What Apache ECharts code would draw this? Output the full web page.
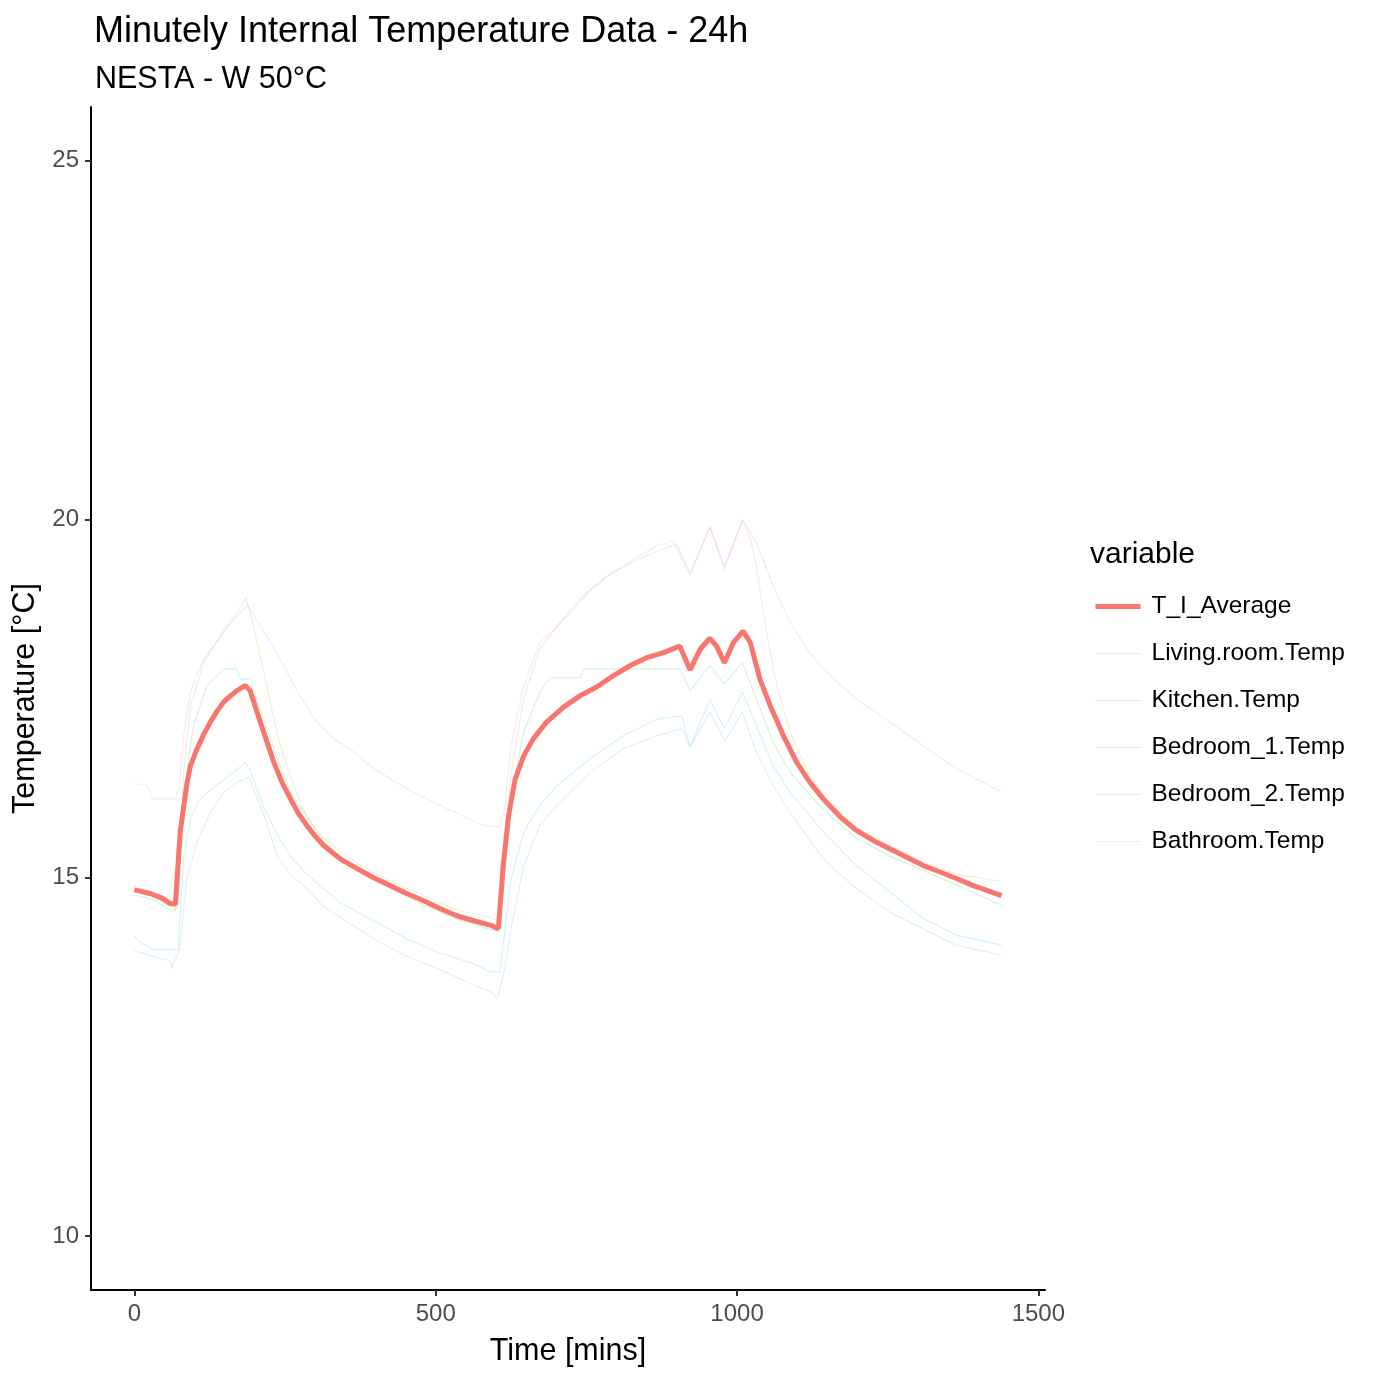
<!DOCTYPE html>
<html>
<head>
<meta charset="utf-8">
<script src="https://cdn.jsdelivr.net/npm/echarts@6/dist/echarts.min.js"></script>
<style>
  html, body { margin: 0; padding: 0; background: #fff; }
  #chart { width: 1379px; height: 1379px; }
</style>
</head>
<body>
<div id="chart"></div>
<script>
// [minute, °C]
const avgPoints = [
  [0, 14.83], [26, 14.78], [45, 14.72], [60, 14.64], [68, 14.63], [76, 15.64], [82, 16.0], [87, 16.3],
  [93, 16.56], [104, 16.8], [115, 17.0], [126, 17.17], [137, 17.32], [148, 17.45], [160, 17.54],
  [170, 17.61], [184, 17.68], [192, 17.61], [209, 17.17], [231, 16.62], [245, 16.33], [259, 16.1],
  [272, 15.9], [286, 15.73], [300, 15.58], [314, 15.45], [342, 15.26], [369, 15.13], [397, 15.0],
  [425, 14.89], [452, 14.78], [480, 14.68], [507, 14.57], [535, 14.47], [563, 14.4], [590, 14.34],
  [604, 14.29], [612, 15.17], [621, 15.87], [632, 16.38], [646, 16.7], [662, 16.94], [684, 17.17],
  [712, 17.38], [740, 17.54], [767, 17.66], [795, 17.82], [823, 17.96], [850, 18.07], [878, 18.14],
  [905, 18.23], [922, 17.9], [939, 18.19], [955, 18.34], [966, 18.23], [979, 18.0], [994, 18.28],
  [1010, 18.44], [1022, 18.28], [1038, 17.77], [1055, 17.4], [1077, 16.98], [1099, 16.61],
  [1121, 16.33], [1143, 16.1], [1171, 15.85], [1198, 15.66], [1226, 15.52], [1254, 15.4],
  [1281, 15.29], [1309, 15.17], [1337, 15.08], [1364, 14.99], [1392, 14.89], [1439, 14.75]
];
const livingPoints = [
  [0, 14.85], [30, 14.75], [60, 14.6], [68, 14.55], [75, 15.2], [82, 16.5], [93, 17.4], [115, 18.0],
  [148, 18.45], [170, 18.7], [185, 18.9], [195, 18.6], [214, 17.9], [237, 17.0], [259, 16.4],
  [286, 15.85], [314, 15.55], [369, 15.2], [425, 14.95], [480, 14.75], [535, 14.55], [590, 14.45],
  [603, 14.4], [614, 15.0], [624, 16.4], [646, 17.5], [673, 18.2], [701, 18.5], [729, 18.75],
  [756, 19.0], [784, 19.2], [811, 19.33], [839, 19.45], [867, 19.55], [900, 19.65], [922, 19.25],
  [955, 19.88], [979, 19.35], [1009, 19.98], [1020, 19.8], [1032, 19.35], [1049, 18.42],
  [1066, 17.68], [1088, 17.03], [1116, 16.5], [1143, 16.15], [1198, 15.7], [1254, 15.45],
  [1309, 15.22], [1364, 15.05], [1439, 14.95]
];
const kitchenPoints = [
  [0, 14.76], [30, 14.7], [65, 14.52], [72, 14.6], [82, 16.19], [98, 17.12], [120, 17.68],
  [148, 17.91], [170, 17.91], [176, 17.77], [192, 17.77], [214, 17.21], [237, 16.66], [259, 16.19],
  [286, 15.85], [314, 15.5], [369, 15.1], [425, 14.85], [480, 14.62], [535, 14.42], [590, 14.28],
  [604, 14.25], [614, 15.0], [624, 16.1], [646, 17.03], [673, 17.59], [690, 17.79], [740, 17.79],
  [746, 17.91], [906, 17.91], [922, 17.61], [955, 17.96], [979, 17.7], [1009, 18.0], [1032, 17.49],
  [1060, 16.89], [1088, 16.47], [1116, 16.2], [1143, 15.95], [1198, 15.55], [1254, 15.3],
  [1309, 15.1], [1364, 14.9], [1439, 14.62]
];
const bed1Points = [
  [0, 14.19], [10, 14.1], [32, 14.0], [73, 14.0], [82, 15.3], [93, 15.82], [109, 16.1], [137, 16.3],
  [165, 16.47], [184, 16.61], [192, 16.5], [214, 16.0], [237, 15.6], [259, 15.3], [286, 15.05],
  [314, 14.85], [342, 14.65], [397, 14.4], [452, 14.15], [507, 13.95], [563, 13.8], [590, 13.69],
  [606, 13.68], [614, 14.2], [624, 14.94], [646, 15.64], [673, 16.01], [701, 16.28], [756, 16.66],
  [811, 16.98], [867, 17.21], [908, 17.26], [922, 16.82], [955, 17.49], [979, 17.08], [1009, 17.59],
  [1032, 17.12], [1060, 16.56], [1088, 16.19], [1143, 15.64], [1198, 15.17], [1254, 14.8],
  [1309, 14.43], [1364, 14.2], [1439, 14.06]
];
const bed2Points = [
  [0, 13.98], [32, 13.9], [60, 13.84], [62, 13.73], [75, 14.0], [87, 14.99], [104, 15.5],
  [126, 15.91], [148, 16.19], [170, 16.33], [190, 16.4], [214, 15.9], [237, 15.3], [259, 15.05],
  [286, 14.85], [314, 14.6], [342, 14.45], [397, 14.15], [452, 13.9], [507, 13.72], [563, 13.5],
  [595, 13.4], [602, 13.31], [614, 13.7], [624, 14.24], [646, 15.17], [673, 15.73], [701, 16.01],
  [756, 16.47], [811, 16.8], [867, 16.98], [908, 17.08], [922, 16.82], [955, 17.31], [980, 16.91],
  [1009, 17.31], [1032, 16.75], [1060, 16.28], [1088, 15.91], [1143, 15.26], [1198, 14.85],
  [1254, 14.52], [1309, 14.29], [1364, 14.06], [1439, 13.92]
];
const bathPoints = [
  [0, 16.31], [22, 16.28], [30, 16.1], [68, 16.1], [74, 16.25], [82, 17.0], [93, 17.6], [115, 18.05],
  [148, 18.42], [170, 18.65], [188, 18.8], [210, 18.5], [242, 18.05], [270, 17.6], [300, 17.2],
  [330, 16.95], [360, 16.78], [397, 16.52], [452, 16.24], [507, 16.01], [579, 15.73], [607, 15.71],
  [615, 16.0], [624, 16.8], [646, 17.68], [673, 18.28], [701, 18.51], [729, 18.79], [756, 19.02],
  [784, 19.21], [811, 19.35], [839, 19.49], [867, 19.63], [894, 19.7], [922, 19.21], [955, 19.91],
  [979, 19.3], [1009, 20.0], [1032, 19.68], [1060, 19.07], [1088, 18.56], [1116, 18.19],
  [1143, 17.91], [1198, 17.49], [1254, 17.17], [1309, 16.84], [1364, 16.52], [1439, 16.2]
];

const seriesNames = ['T_I_Average', 'Living.room.Temp', 'Kitchen.Temp', 'Bedroom_1.Temp', 'Bedroom_2.Temp', 'Bathroom.Temp'];
const seriesData = [avgPoints, livingPoints, kitchenPoints, bed1Points, bed2Points, bathPoints];
const seriesColors = ['#F8766D', '#B79F00', '#00BA38', '#00BFC4', '#619CFF', '#F564E3'];
const xTicks = [0, 500, 1000, 1500];
const yTicks = [10, 15, 20, 25];

const font = '"Liberation Sans", Arial, sans-serif';
const chart = echarts.init(document.getElementById('chart'));

const series = seriesNames.map((name, i) => ({
  name: name,
  type: 'line',
  data: seriesData[i],
  showSymbol: false,
  symbol: 'none',
  z: i === 0 ? 5 : 2,
  lineStyle: {
    color: seriesColors[i],
    width: i === 0 ? 5 : 1.1,
    opacity: i === 0 ? 1 : 0.18
  },
  itemStyle: { color: seriesColors[i] }
}));

const option = {
  animation: false,
  backgroundColor: '#fff',
  title: [
    {
      text: 'Minutely Internal Temperature Data - 24h',
      left: 89, top: 9,
      textStyle: { fontFamily: font, fontSize: 36, fontWeight: 'normal', color: '#000' }
    },
    {
      text: 'NESTA - W 50°C',
      left: 90, top: 59,
      textStyle: { fontFamily: font, fontSize: 30.5, fontWeight: 'normal', color: '#000' }
    },
    {
      text: 'variable',
      left: 1085, top: 535,
      textStyle: { fontFamily: font, fontSize: 30, fontWeight: 'normal', color: '#000' }
    }
  ],
  legend: {
    orient: 'vertical',
    left: 1088,
    top: 589,
    itemWidth: 45,
    itemHeight: 14,
    itemGap: 22,
    data: seriesNames.map((name, i) => ({
      name: name,
      itemStyle: { opacity: 0 },
      lineStyle: { color: seriesColors[i], width: i === 0 ? 5 : 1.2, opacity: i === 0 ? 1 : 0.2 }
    })),
    textStyle: { fontFamily: font, fontSize: 24.5, color: '#000', padding: [0, 0, 0, 6] }
  },
  grid: { left: 91, right: 334, top: 107, bottom: 89, containLabel: false },
  xAxis: {
    type: 'value',
    min: -72, max: 1511,
    name: 'Time [mins]',
    nameLocation: 'middle',
    nameGap: 46,
    nameTextStyle: { fontFamily: font, fontSize: 30.5, color: '#000' },
    splitLine: { show: false },
    axisLine: { show: true, onZero: false, lineStyle: { color: '#000', width: 2 } },
    axisTick: { show: true, length: 6, customValues: xTicks, lineStyle: { color: '#333', width: 2 } },
    axisLabel: {
      customValues: xTicks, margin: 12, fontFamily: font, fontSize: 24, color: '#4D4D4D',
      formatter: v => String(v)
    }
  },
  yAxis: {
    type: 'value',
    min: 9.25, max: 25.75,
    name: 'Temperature [°C]',
    nameLocation: 'middle',
    nameGap: 47,
    nameTextStyle: { fontFamily: font, fontSize: 30.5, color: '#000' },
    splitLine: { show: false },
    axisLine: { show: true, onZero: false, lineStyle: { color: '#000', width: 2 } },
    axisTick: { show: true, length: 6, customValues: yTicks, lineStyle: { color: '#333', width: 2 } },
    axisLabel: {
      customValues: yTicks, margin: 12, fontFamily: font, fontSize: 24, color: '#4D4D4D',
      formatter: v => String(v)
    }
  },
  series: series
};

chart.setOption(option);
</script>
</body>
</html>
